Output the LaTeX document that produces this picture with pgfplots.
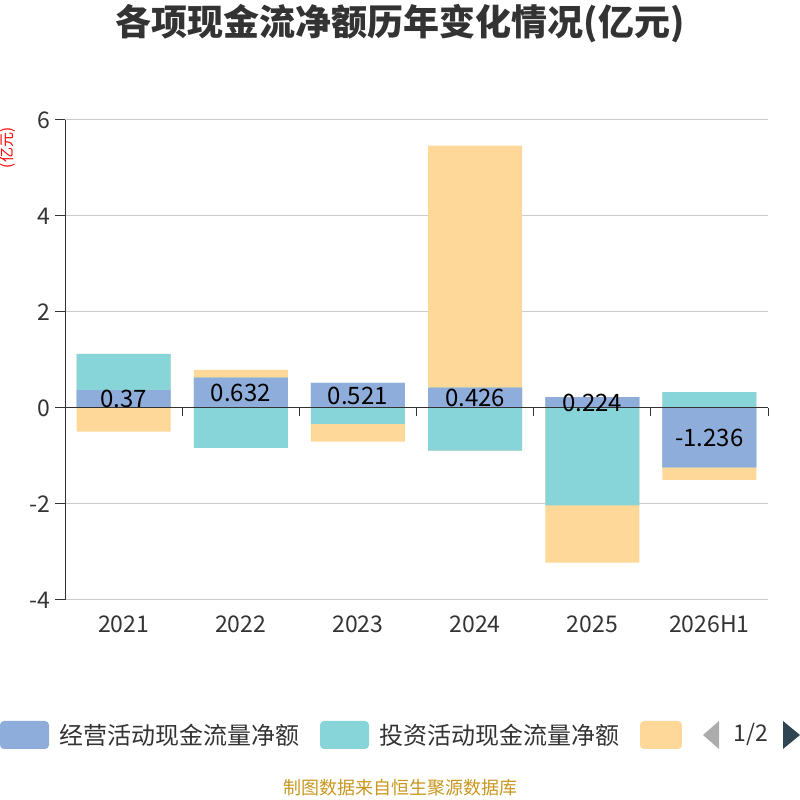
\documentclass[border=0pt]{standalone}
\usepackage{pgfplots}
\usepackage{pgfplotstable}
\pgfplotsset{compat=1.18}
\usepackage{fontspec}
\setmainfont{Noto Sans CJK SC}
\definecolor{opc}{HTML}{8EADDA}
\definecolor{invc}{HTML}{87D5D8}
\definecolor{finc}{HTML}{FED898}
\definecolor{txt}{HTML}{333333}
\definecolor{gridc}{HTML}{CCCCCC}
\definecolor{srcc}{HTML}{C8961E}
\definecolor{arrowd}{HTML}{2F4554}

\pgfplotstableread{
x op inv fin
0 0.37 0.755 -0.49
1 0.632 -0.83 0.16
2 0.521 -0.33 -0.37
3 0.426 -0.89 5.04
4 0.224 -2.03 -1.19
5 -1.236 0.33 -0.26
}\data

\begin{document}
\begin{tikzpicture}[x=1pt,y=1pt]
\useasboundingbox (0,0) rectangle (800,800);
% title
\node[text=txt, font=\fontsize{36}{42}\selectfont\bfseries] at (400,776) {各项现金流净额历年变化情况(亿元)};
% unit label
\node[text=red, rotate=90, font=\fontsize{15}{17}\selectfont] at (8,652) {(亿元)};
\begin{axis}[
  at={(65pt,200pt)}, anchor=south west,
  scale only axis, width=703pt, height=480pt,
  xmin=-0.5, xmax=5.5, ymin=-4, ymax=6,
  ytick={-4,-2,0,2,4,6},
  xtick={0,1,2,3,4,5},
  xticklabels={2021,2022,2023,2024,2025,2026H1},
  ymajorgrids, grid style={gridc, line width=1pt},
  axis x line*=bottom, x axis line style={draw=none},
  axis y line*=left, y axis line style={txt, line width=1pt},
  major tick length=0pt,
  ytick style={draw=none},
  xtick style={draw=none},
  ticklabel style={text=txt, font=\fontsize{23}{26}\selectfont},
  xticklabel style={yshift=-12pt},
  yticklabel style={xshift=-11pt},
  /pgf/number format/assume math mode=true,
  /pgf/number format/fixed,
  /pgf/number format/precision=3,
  clip=false,
]
% positive stacks (drawn largest first)
\addplot[ybar, bar width=94pt, bar shift=0pt, fill=finc, draw=none]
  table[x=x, y expr={max(\thisrow{op},0)+max(\thisrow{inv},0)+max(\thisrow{fin},0)}]{\data};
\addplot[ybar, bar width=94pt, bar shift=0pt, fill=invc, draw=none]
  table[x=x, y expr={max(\thisrow{op},0)+max(\thisrow{inv},0)}]{\data};
\addplot[ybar, bar width=94pt, bar shift=0pt, fill=opc, draw=none]
  table[x=x, y expr={max(\thisrow{op},0)}]{\data};
% negative stacks
\addplot[ybar, bar width=94pt, bar shift=0pt, fill=finc, draw=none]
  table[x=x, y expr={min(\thisrow{op},0)+min(\thisrow{inv},0)+min(\thisrow{fin},0)}]{\data};
\addplot[ybar, bar width=94pt, bar shift=0pt, fill=invc, draw=none]
  table[x=x, y expr={min(\thisrow{op},0)+min(\thisrow{inv},0)}]{\data};
\addplot[ybar, bar width=94pt, bar shift=0pt, fill=opc, draw=none]
  table[x=x, y expr={min(\thisrow{op},0)}]{\data};
% labels
\addplot[draw=none, mark=none, point meta=explicit,
  nodes near coords,
  nodes near coords style={anchor=center, text=black, font=\fontsize{24}{27}\selectfont}]
  table[x=x, y expr={\thisrow{op}/2}, meta=op]{\data};
% zero axis line with ticks
\draw[txt, line width=1pt] (axis cs:-0.5,0) -- (axis cs:5.5,0);
\pgfplotsinvokeforeach{0.5,1.5,2.5,3.5,4.5,5.5}{
  \draw[txt, line width=1pt] (axis cs:#1,0) -- ([yshift=-8pt]axis cs:#1,0);
}
\pgfplotsinvokeforeach{-4,-2,0,2,4,6}{
  \draw[txt, line width=1pt] (axis cs:-0.5,#1) -- ([xshift=-10pt]axis cs:-0.5,#1);
}
\end{axis}
% legend
\fill[opc, rounded corners=4pt] (0,51) rectangle (49,79);
\node[anchor=west, text=txt, font=\fontsize{24}{27}\selectfont, inner sep=0pt] at (59,65) {经营活动现金流量净额};
\fill[invc, rounded corners=4pt] (320,51) rectangle (369,79);
\node[anchor=west, text=txt, font=\fontsize{24}{27}\selectfont, inner sep=0pt] at (379,65) {投资活动现金流量净额};
\fill[finc, rounded corners=4pt] (640,51) rectangle (682,79);
\fill[white] (682,45) rectangle (700,85);
\fill[gray!65] (703,65) -- (719,79) -- (719,51) -- cycle;
\node[text=txt, font=\fontsize{23}{26}\selectfont, inner sep=0pt] at (751,66) {1/2};
\fill[arrowd] (800,65) -- (783,79) -- (783,51) -- cycle;
% source
\node[text=srcc, font=\fontsize{18}{21}\selectfont] at (400,12) {制图数据来自恒生聚源数据库};
\end{tikzpicture}
\end{document}
